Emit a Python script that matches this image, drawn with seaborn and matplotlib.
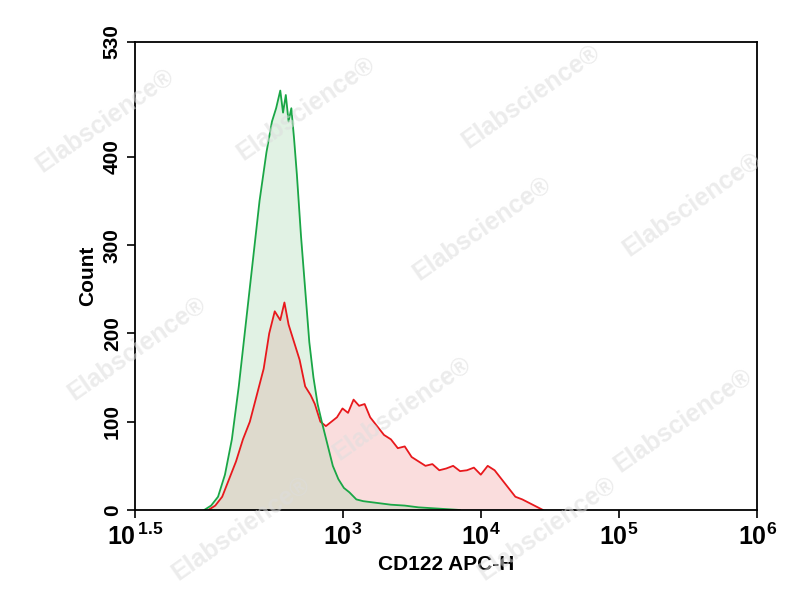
import numpy as np
import matplotlib
matplotlib.use("Agg")
import matplotlib.pyplot as plt
import seaborn as sns

# log10 channel positions and counts
green_log = [2.0, 2.05, 2.1, 2.15, 2.2, 2.25, 2.3, 2.35, 2.4, 2.45, 2.49, 2.52, 2.55, 2.57, 2.59, 2.61, 2.63,
             2.65, 2.67, 2.7, 2.73, 2.76, 2.79, 2.82, 2.85, 2.89, 2.93, 2.97, 3.01, 3.05, 3.1, 3.15, 3.25,
             3.35, 3.45, 3.55, 3.65, 3.75, 3.85]
green_cnt = [0, 5, 15, 40, 80, 140, 210, 280, 350, 405, 440, 455, 475, 450, 470, 440, 455,
             420, 380, 310, 250, 190, 150, 120, 100, 75, 50, 35, 25, 20, 12, 10, 8,
             6, 5, 3, 2, 1, 0]
red_log = [2.03, 2.08, 2.13, 2.18, 2.23, 2.28, 2.33, 2.38, 2.43, 2.47, 2.51, 2.55, 2.58, 2.61, 2.65, 2.69,
           2.73, 2.77, 2.8, 2.84, 2.88, 2.92, 2.96, 3.0, 3.04, 3.08, 3.12, 3.16, 3.2, 3.25, 3.3, 3.35,
           3.4, 3.45, 3.5, 3.55, 3.6, 3.65, 3.7, 3.75, 3.8, 3.85, 3.9, 3.95, 4.0, 4.05, 4.1, 4.15,
           4.2, 4.25, 4.3, 4.35, 4.4, 4.45]
red_cnt = [0, 5, 15, 35, 55, 80, 100, 130, 160, 200, 225, 215, 235, 210, 190, 170,
           140, 130, 120, 100, 95, 100, 105, 115, 110, 125, 118, 120, 105, 95, 85, 80,
           70, 72, 60, 55, 50, 52, 45, 47, 50, 44, 45, 48, 40, 50, 45, 35,
           25, 15, 12, 8, 4, 0]
xtick_pos = [1.5, 3, 4, 5, 6]
xtick_labels = [r"$\mathbf{10^{\,1.5}}$", r"$\mathbf{10^{3}}$", r"$\mathbf{10^{4}}$",
                r"$\mathbf{10^{5}}$", r"$\mathbf{10^{6}}$"]
ytick_vals = [0, 100, 200, 300, 400, 530]

sns.set_style("white")
plt.rcParams['font.family'] = ['Liberation Sans', 'DejaVu Sans']
plt.rcParams['mathtext.fontset'] = 'custom'
plt.rcParams['mathtext.bf'] = 'Liberation Sans:bold'

fig = plt.figure(figsize=(8.04, 6.0), dpi=100)
ax = fig.add_axes([0.168, 0.15, 0.774, 0.78])

gx = 10 ** np.array(green_log)
rx = 10 ** np.array(red_log)
ax.fill_between(rx, red_cnt, color="#f3a0a0", alpha=0.35, lw=0)
ax.fill_between(gx, green_cnt, color="#9ed4a8", alpha=0.3, lw=0)
sns.lineplot(x=rx, y=red_cnt, ax=ax, color="#e8181c", lw=1.3, sort=False)
sns.lineplot(x=gx, y=green_cnt, ax=ax, color="#1aa646", lw=1.3, sort=False)

ax.set_xscale("log")
ax.set_xlim(10 ** 1.5, 10 ** 6)
ax.set_ylim(0, 530)
ax.set_xticks([10 ** p for p in xtick_pos])
ax.set_xticklabels(xtick_labels, fontsize=18, color="black")
ax.xaxis.set_minor_locator(matplotlib.ticker.NullLocator())
ax.set_yticks(ytick_vals)
ax.set_yticklabels([str(v) for v in ytick_vals], rotation=90, va="center", fontsize=15,
                   color="black", fontweight="bold")
ax.tick_params(axis="both", direction="out", length=6, width=1.2, bottom=True, left=True,
               colors="black")
for s in ax.spines.values():
    s.set_color("black")
    s.set_linewidth(1.3)
ax.set_xlabel("CD122 APC-H", fontsize=15, fontweight="bold", color="black")
ax.set_ylabel("Count", fontsize=15, fontweight="bold", color="black")

# watermarks
for (x, y) in [(0.13, 0.8), (0.38, 0.82), (0.66, 0.84), (0.6, 0.62), (0.86, 0.66), (0.17, 0.42),
               (0.5, 0.32), (0.85, 0.3), (0.3, 0.12), (0.68, 0.12)]:
    fig.text(x, y, "Elabscience®", rotation=35, fontsize=18, color="#dddddd", alpha=0.55,
             ha="center", va="center", fontweight="bold", zorder=10)

fig.savefig("out.png", dpi=100)
